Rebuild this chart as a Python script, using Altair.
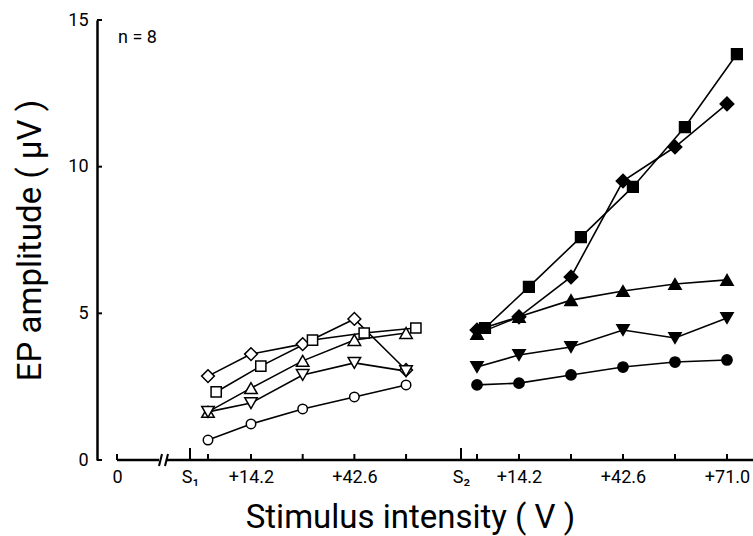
import altair as alt
import pandas as pd

# Stimulus steps above each threshold (V)
left_volts = [0.0, 14.2, 28.4, 42.6, 56.8]
right_volts = [0.0, 14.2, 28.4, 42.6, 56.8, 71.0]

# EP amplitude (uV) above threshold S1 (open markers)
s1_diamond = [2.86, 3.61, 3.95, 4.81, 3.07]
s1_square = [2.32, 3.20, 4.09, 4.33, 4.50]
s1_tri_up = [1.64, 2.45, 3.38, 4.09, 4.33]
s1_tri_down = [1.64, 1.94, 2.90, 3.31, 3.03]
s1_circle = [0.68, 1.23, 1.74, 2.15, 2.56]

# EP amplitude (uV) above threshold S2 (filled markers)
s2_diamond = [4.43, 4.88, 6.24, 9.51, 10.67, 12.14]
s2_square = [4.50, 5.90, 7.60, 9.31, 11.35, 13.84]
s2_tri_up = [4.30, 4.88, 5.45, 5.76, 6.00, 6.14]
s2_tri_down = [3.17, 3.58, 3.85, 4.43, 4.16, 4.84]
s2_circle = [2.56, 2.62, 2.90, 3.17, 3.34, 3.41]

# Axis tick labels
x_tick_labels = ["0", "S\u2081", "+14.2", "+42.6", "S\u2082", "+14.2", "+42.6", "+71.0"]

# Axis coordinate: S2 block is shifted to the right of the S1 block,
# squares are nudged sideways so they do not hide the other markers.
BLOCK_SHIFT = {"S1": 0.0, "S2": 100.0}
DODGE = {"square": 2.7}
ORIGIN_U, S1_U, S2_U = -40.0, -8.0, 90.0

series_s1 = {"diamond": s1_diamond, "square": s1_square, "triangle-up": s1_tri_up,
             "triangle-down": s1_tri_down, "circle": s1_circle}
series_s2 = {"diamond": s2_diamond, "square": s2_square, "triangle-up": s2_tri_up,
             "triangle-down": s2_tri_down, "circle": s2_circle}

rows = []
for block, volts, smap in [("S1", left_volts, series_s1), ("S2", right_volts, series_s2)]:
    for name, vals in smap.items():
        for v, a in zip(volts, vals):
            rows.append({"block": block, "series": name, "volts": v, "amp": a,
                         "u": BLOCK_SHIFT[block] + v + DODGE.get(name, 0.0),
                         "key": f"{name}-{block}"})
df = pd.DataFrame(rows)

small_ticks = pd.DataFrame({"u": [ORIGIN_U] + [BLOCK_SHIFT["S1"] + v for v in left_volts]
                            + [BLOCK_SHIFT["S2"] + v for v in right_volts]})
tall_ticks = pd.DataFrame({"u": [S1_U, S2_U]})
y_ticks = pd.DataFrame({"amp": [0, 5, 10, 15]})

label_u = [ORIGIN_U, S1_U, BLOCK_SHIFT["S1"] + 14.2, BLOCK_SHIFT["S1"] + 42.6,
           S2_U, BLOCK_SHIFT["S2"] + 14.2, BLOCK_SHIFT["S2"] + 42.6, BLOCK_SHIFT["S2"] + 71.0]
expr = "''"
for val, lab in reversed(list(zip(label_u, x_tick_labels))):
    expr = f"abs(datum.value - ({val})) < 0.01 ? '{lab}' : ({expr})"

FONT = "Roboto"
W, H = 656, 440

x_scale = alt.Scale(domain=[-40, -8, 0, 14.2, 60, 90, 100, 114.2, 171],
                    range=[20, 93, 111, 154, 320.7, 364, 380, 422, 630],
                    nice=False, zero=False)
x_enc = alt.X("u:Q", scale=x_scale,
              axis=alt.Axis(values=label_u, labelExpr=expr, domain=False, ticks=False,
                            grid=False, labelFontSize=18, labelFont=FONT, labelColor="black",
                            labelPadding=8, labelOverlap=False, labelFlush=False,
                            title="Stimulus intensity ( V )", titleFont=FONT,
                            titleFontSize=33, titleFontWeight="normal", titleColor="black",
                            titleX=313, titleY=67, titleAlign="center",
                            titleBaseline="alphabetic"))
y_enc = alt.Y("amp:Q", scale=alt.Scale(domain=[0, 15], nice=False, zero=True),
              axis=alt.Axis(values=[0, 5, 10, 15], domain=True, domainColor="black",
                            domainWidth=2.5, ticks=False, grid=False, labelFontSize=18,
                            labelFont=FONT, labelColor="black", labelPadding=9,
                            title="EP amplitude ( \u03bcV )", titleFont=FONT,
                            titleFontSize=33, titleFontWeight="normal", titleColor="black",
                            titleX=-57, titleY=H / 2, titleAngle=270, titleAlign="center",
                            titleBaseline="alphabetic"))

one = pd.DataFrame({"k": [0]})

# broken x axis line
axis_a = alt.Chart(one).mark_rule(color="black", strokeWidth=2.5).encode(
    x=alt.value(20), x2=alt.value(62), y=alt.value(H))
axis_b = alt.Chart(one).mark_rule(color="black", strokeWidth=2.5).encode(
    x=alt.value(69), x2=alt.value(W), y=alt.value(H))
brk1 = alt.Chart(one).mark_rule(color="black", strokeWidth=2).encode(
    x=alt.value(62), x2=alt.value(65), y=alt.value(H + 6), y2=alt.value(H - 6))
brk2 = alt.Chart(one).mark_rule(color="black", strokeWidth=2).encode(
    x=alt.value(68), x2=alt.value(71), y=alt.value(H + 6), y2=alt.value(H - 6))

xt_small = alt.Chart(small_ticks).mark_rule(color="black", strokeWidth=2).encode(
    x=x_enc, y=alt.value(H), y2=alt.value(H - 6))
xt_tall = alt.Chart(tall_ticks).mark_rule(color="black", strokeWidth=2).encode(
    x=x_enc, y=alt.value(H), y2=alt.value(H - 12))
yt = alt.Chart(y_ticks).mark_rule(color="black", strokeWidth=2).encode(
    y=y_enc, x=alt.value(0), x2=alt.value(5))

lines = alt.Chart(df).mark_line(color="black", strokeWidth=1.6).encode(
    x=x_enc, y=y_enc, detail="key:N", order="u:Q")

sizes = {
    ("S1", "diamond"): 164, ("S1", "square"): 104, ("S1", "triangle-up"): 156,
    ("S1", "triangle-down"): 156, ("S1", "circle"): 90,
    ("S2", "diamond"): 182, ("S2", "square"): 115, ("S2", "triangle-up"): 150,
    ("S2", "triangle-down"): 150, ("S2", "circle"): 105,
}
point_layers = []
for (block, shape), sz in sizes.items():
    sub = df[(df["block"] == block) & (df["series"] == shape)]
    point_layers.append(
        alt.Chart(sub).mark_point(shape=shape, size=sz, filled=True, opacity=1,
                                  fill="white" if block == "S1" else "black",
                                  stroke="black", strokeWidth=1.5)
        .encode(x=x_enc, y=y_enc)
    )

n_label = alt.Chart(pd.DataFrame({"t": ["n = 8"]})).mark_text(
    font=FONT, fontSize=18, color="black", align="left", baseline="alphabetic"
).encode(x=alt.value(21), y=alt.value(23), text="t:N")

chart = alt.layer(
    axis_a, axis_b, brk1, brk2, xt_small, xt_tall, yt, lines, *point_layers, n_label
).properties(
    width=W, height=H,
    autosize=alt.AutoSizeParams(type="none"),
    padding={"left": 97, "top": 20, "right": 0, "bottom": 76},
    background="white",
).configure_view(strokeWidth=0)

chart.save("out.html", embed_options={"renderer": "svg", "actions": False})
